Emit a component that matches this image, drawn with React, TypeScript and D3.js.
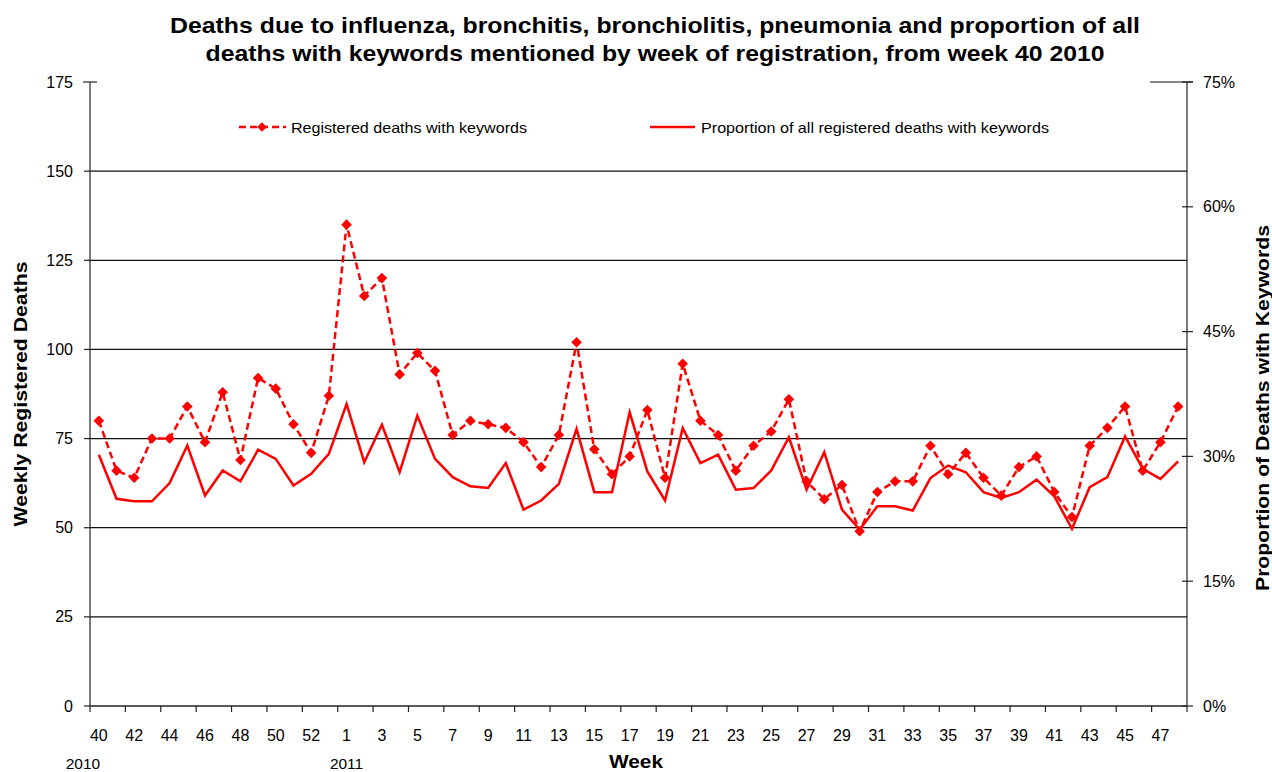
import React from "react";
import * as d3 from "d3";

const weeks = [40, 41, 42, 43, 44, 45, 46, 47, 48, 49, 50, 51, 52, 53, 1, 2, 3, 4, 5, 6, 7, 8, 9, 10, 11, 12, 13, 14, 15, 16, 17, 18, 19, 20, 21, 22, 23, 24, 25, 26, 27, 28, 29, 30, 31, 32, 33, 34, 35, 36, 37, 38, 39, 40, 41, 42, 43, 44, 45, 46, 47, 48];
const years = ["2010", "2010", "2010", "2010", "2010", "2010", "2010", "2010", "2010", "2010", "2010", "2010", "2010", "2010", "2011", "2011", "2011", "2011", "2011", "2011", "2011", "2011", "2011", "2011", "2011", "2011", "2011", "2011", "2011", "2011", "2011", "2011", "2011", "2011", "2011", "2011", "2011", "2011", "2011", "2011", "2011", "2011", "2011", "2011", "2011", "2011", "2011", "2011", "2011", "2011", "2011", "2011", "2011", "2011", "2011", "2011", "2011", "2011", "2011", "2011", "2011", "2011"];
const deaths = [80, 66, 64, 75, 75, 84, 74, 88, 69, 92, 89, 79, 71, 87, 135, 115, 120, 93, 99, 94, 76, 80, 79, 78, 74, 67, 76, 102, 72, 65, 70, 83, 64, 96, 80, 76, 66, 73, 77, 86, 63, 58, 62, 49, 60, 63, 63, 73, 65, 71, 64, 59, 67, 70, 60, 53, 73, 78, 84, 66, 74, 84];
const proportion = [30.2, 24.9, 24.6, 24.6, 26.8, 31.3, 25.3, 28.3, 27.0, 30.8, 29.7, 26.5, 27.9, 30.3, 36.3, 29.3, 33.8, 28.1, 34.9, 29.7, 27.5, 26.4, 26.2, 29.2, 23.6, 24.7, 26.7, 33.3, 25.7, 25.7, 35.3, 28.2, 24.7, 33.4, 29.2, 30.2, 26.0, 26.2, 28.3, 32.3, 26.0, 30.5, 23.6, 21.2, 24.0, 24.0, 23.5, 27.4, 28.9, 28.1, 25.7, 25.0, 25.7, 27.2, 25.2, 21.3, 26.3, 27.5, 32.4, 28.5, 27.3, 29.4];
const leftTicks = [0, 25, 50, 75, 100, 125, 150, 175];
const rightTicks = [0, 15, 30, 45, 60, 75];
const titleLines = [
  "Deaths due to influenza, bronchitis, bronchiolitis,  pneumonia and proportion of all",
  "deaths with keywords mentioned by week of registration, from week 40 2010",
];
const seriesNames = ["Registered deaths with keywords", "Proportion of all registered deaths with keywords"];

const FONT = "'Liberation Sans', Arial, sans-serif";
const RED = "#FF0000";

export default function App() {
  const left = 90, right = 1187, top = 82, bottom = 706;
  const idx = weeks.map((_, i) => i);
  const x = d3.scaleBand<number>().domain(idx).range([left, right]).padding(0);
  const cx = (i: number) => (x(i) as number) + x.bandwidth() / 2;
  const yL = d3.scaleLinear().domain([0, 175]).range([bottom, top]);
  const yR = d3.scaleLinear().domain([0, 75]).range([bottom, top]);

  const deathLine = d3.line<number>().x((_, i) => cx(i)).y((d) => yL(d))(deaths) || "";
  const propLine = d3.line<number>().x((_, i) => cx(i)).y((d) => yR(d))(proportion) || "";

  const diamond = (px: number, py: number, r = 5.3) =>
    `M${px},${py - r}L${px + r},${py}L${px},${py + r}L${px - r},${py}Z`;

  const tickIdx = idx.filter((i) => i % 2 === 0);
  const yearStarts = idx.filter((i) => i === 0 || years[i] !== years[i - 1]);

  return (
    <svg width={1272} height={772} style={{ position: "absolute", left: 0, top: 0, background: "#fff" }} fontFamily={FONT}>
      {/* title */}
      {titleLines.map((t, i) => (
        <text key={i} x={655} y={33 + i * 28} textAnchor="middle" fontSize={21.5} fontWeight="bold"
          textLength={i === 0 ? 970 : 899} lengthAdjust="spacingAndGlyphs">{t}</text>
      ))}

      {/* gridlines */}
      {leftTicks.filter((t) => t > 0 && t < 175).map((t) => (
        <line key={t} x1={left} x2={right} y1={yL(t)} y2={yL(t)} stroke="#111" strokeWidth={1.3} />
      ))}
      <line x1={1150} x2={1193} y1={yL(175)} y2={yL(175)} stroke="#111" strokeWidth={1} />

      {/* left axis */}
      <line x1={left} x2={left} y1={top} y2={bottom} stroke="#222" strokeWidth={1.2} />
      {leftTicks.map((t) => (
        <g key={t}>
          <line x1={t === 175 ? 83 : 84} x2={t === 175 ? 97 : left} y1={yL(t)} y2={yL(t)} stroke="#222" strokeWidth={1.2} />
          <text x={73} y={yL(t) + 5.5} textAnchor="end" fontSize={16}>{t}</text>
        </g>
      ))}

      {/* right axis */}
      <line x1={right} x2={right} y1={top} y2={bottom} stroke="#222" strokeWidth={1.2} />
      {rightTicks.map((t) => (
        <g key={t}>
          <line x1={right - 5} x2={right + 6} y1={yR(t)} y2={yR(t)} stroke="#222" strokeWidth={1.2} />
          <text x={1203} y={yR(t) + 5.5} textAnchor="start" fontSize={16}>{t + "%"}</text>
        </g>
      ))}

      {/* x axis */}
      <line x1={left} x2={right} y1={bottom} y2={bottom} stroke="#222" strokeWidth={1.3} />
      {tickIdx.map((i) => (
        <line key={"t" + i} x1={x(i) as number} x2={x(i) as number} y1={bottom} y2={bottom + 6} stroke="#222" strokeWidth={1.2} />
      ))}
      <line x1={right} x2={right} y1={bottom} y2={bottom + 6} stroke="#222" strokeWidth={1.2} />
      {tickIdx.map((i) => (
        <text key={"l" + i} x={cx(i)} y={741} textAnchor="middle" fontSize={16}>{weeks[i]}</text>
      ))}
      {yearStarts.map((i) => (
        <text key={"y" + i} x={i === 0 ? 83 : cx(i)} y={769} textAnchor="middle" fontSize={15.5}>{years[i]}</text>
      ))}

      {/* axis titles */}
      <text x={636} y={768} textAnchor="middle" fontSize={19} fontWeight="bold" textLength={54} lengthAdjust="spacingAndGlyphs">Week</text>
      <text transform={`translate(27,${(top + bottom) / 2}) rotate(-90)`} textAnchor="middle" fontSize={19} fontWeight="bold"
        textLength={265} lengthAdjust="spacingAndGlyphs">Weekly Registered Deaths</text>
      <text transform={`translate(1269,${(top + bottom) / 2 + 14}) rotate(-90)`} textAnchor="middle" fontSize={19} fontWeight="bold"
        textLength={366} lengthAdjust="spacingAndGlyphs">Proportion of Deaths with Keywords</text>

      {/* series */}
      <path d={propLine} fill="none" stroke={RED} strokeWidth={2.5} strokeLinejoin="miter" />
      <path d={deathLine} fill="none" stroke={RED} strokeWidth={2.5} strokeDasharray="7,4" />
      {deaths.map((d, i) => (
        <path key={i} d={diamond(cx(i), yL(d))} fill={RED} />
      ))}

      {/* legend */}
      <line x1={239} x2={286} y1={127} y2={127} stroke={RED} strokeWidth={2.5} strokeDasharray="7,4" />
      <path d={diamond(262, 127, 4.8)} fill={RED} />
      <text x={291} y={132.5} fontSize={15} textLength={236} lengthAdjust="spacingAndGlyphs">{seriesNames[0]}</text>
      <line x1={650} x2={695} y1={127} y2={127} stroke={RED} strokeWidth={2.5} />
      <text x={701} y={132.5} fontSize={15} textLength={348} lengthAdjust="spacingAndGlyphs">{seriesNames[1]}</text>
    </svg>
  );
}
